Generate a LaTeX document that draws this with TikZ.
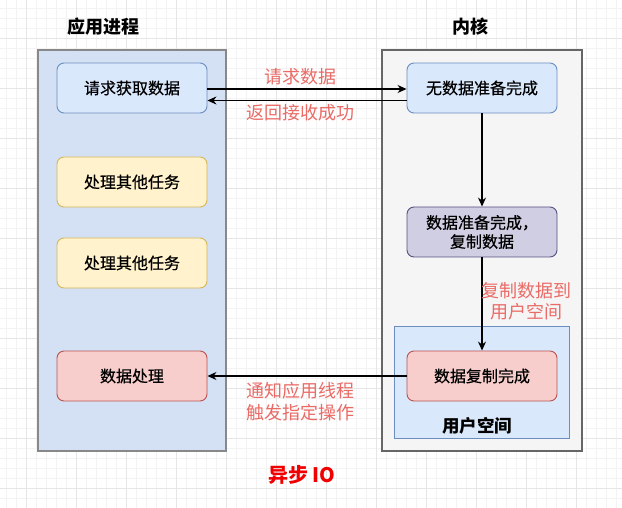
\documentclass[tikz,border=0pt]{standalone}
\usepackage{fontspec}
\setmainfont{Noto Sans CJK SC}
\newfontfamily\nodefont{Noto Sans CJK SC}[FakeBold=0.5]
\usetikzlibrary{arrows.meta}
\definecolor{gridminor}{HTML}{F3F3F3}
\definecolor{gridmajor}{HTML}{E6E6E6}
\definecolor{appfill}{HTML}{D4E1F5}
\definecolor{appborder}{HTML}{888888}
\definecolor{kfill}{HTML}{F5F5F5}
\definecolor{kborder}{HTML}{666666}
\definecolor{bluefill}{HTML}{DAE8FC}
\definecolor{blueborder}{HTML}{6C8EBF}
\definecolor{yellowfill}{HTML}{FFF2CC}
\definecolor{yellowborder}{HTML}{D6B656}
\definecolor{redfill}{HTML}{F8CECC}
\definecolor{redborder}{HTML}{B85450}
\definecolor{purplefill}{HTML}{D0CEE2}
\definecolor{purpleborder}{HTML}{56517E}
\definecolor{labelred}{HTML}{EA6B66}
\definecolor{titlered}{HTML}{F00000}
\tikzset{
  gridminorline/.style={draw=gridminor, line width=0.6pt},
  gridmajorline/.style={draw=gridmajor, line width=0.8pt},
  region/.style={rectangle, line width=1.5pt, inner sep=0pt},
  stepbox/.style={rectangle, rounded corners=7pt, line width=0.9pt,
    minimum width=150pt, minimum height=50pt, inner sep=2pt, align=center,
    text=black, font=\nodefont\fontsize{16}{19}\selectfont},
  bluebox/.style={stepbox, fill=bluefill, draw=blueborder},
  yellowbox/.style={stepbox, fill=yellowfill, draw=yellowborder},
  redbox/.style={stepbox, fill=redfill, draw=redborder},
  purplebox/.style={stepbox, fill=purplefill, draw=purpleborder},
  titletext/.style={font=\fontsize{18}{21}\selectfont\bfseries, text=black},
  edgelabel/.style={font=\fontsize{18}{21.5}\selectfont, text=labelred, align=center, inner sep=0pt},
  arr/.style={-{Stealth[length=9pt,width=8pt]}, line width=1.2pt, draw=black}
}
\begin{document}
\begin{tikzpicture}[x=1pt,y=-1pt]
\useasboundingbox (0,0) rectangle (622,508);
\fill[white] (0,0) rectangle (622,508);
% background grid
\foreach \gx in {6,16,...,616} \draw[gridminorline] (\gx,0) -- (\gx,508);
\foreach \gy in {8,18,...,498} \draw[gridminorline] (0,\gy) -- (622,\gy);
\foreach \gx in {26,76,...,576} \draw[gridmajorline] (\gx,0) -- (\gx,508);
\foreach \gy in {38,88,...,488} \draw[gridmajorline] (0,\gy) -- (622,\gy);

% regions
\node[region, fill=appfill, draw=appborder, minimum width=188pt, minimum height=401pt] (app) at (132,250.5) {};
\node[region, fill=kfill, draw=kborder, minimum width=200pt, minimum height=401pt] (kernel) at (482,250.5) {};
\node[rectangle, fill=bluefill, draw=blueborder, line width=1pt, minimum width=175pt, minimum height=112pt, inner sep=0pt] (user) at (481.5,382) {};

% titles
\node[titletext] (apptitle) at (103,27) {应用进程};
\node[titletext] (ktitle) at (470,27) {内核};
\node[titletext, font=\fontsize{17.5}{21}\selectfont\bfseries] (usertitle) at (477,426) {用户空间};
\node[font=\fontsize{20}{23}\selectfont\bfseries, text=titlered] (maintitle) at (302,475) {异步 IO};

% app nodes
\node[bluebox] (n1) at (132,88) {请求获取数据};
\node[yellowbox] (n2) at (132,182) {处理其他任务};
\node[yellowbox] (n3) at (132,263) {处理其他任务};
\node[redbox] (n4) at (132,376) {数据处理};

% kernel nodes
\node[bluebox] (k1) at (482,88) {无数据准备完成};
\node[purplebox] (k2) at (482,232) {数据准备完成，\\复制数据};
\node[redbox] (k3) at (482,376) {数据复制完成};

% connectors
\draw[arr] ([yshift=-1pt]n1.east) -- ([yshift=-1pt]k1.west);
\draw[arr] ([yshift=-12.5pt]k1.west) -- ([yshift=-12.5pt]n1.east);
\draw[arr] (k1.south) -- (k2.north);
\draw[arr] (k2.south) -- (k3.north);
\draw[arr] (k3.west) -- (n4.east);

% labels
\node[edgelabel] (l1) at (300,77) {请求数据};
\node[edgelabel] (l2) at (300,113) {返回接收成功};
\node[edgelabel] (l3) at (526,301) {复制数据到\\用户空间};
\node[edgelabel] (l4) at (300,401.5) {通知应用线程\\触发指定操作};
\end{tikzpicture}
\end{document}
